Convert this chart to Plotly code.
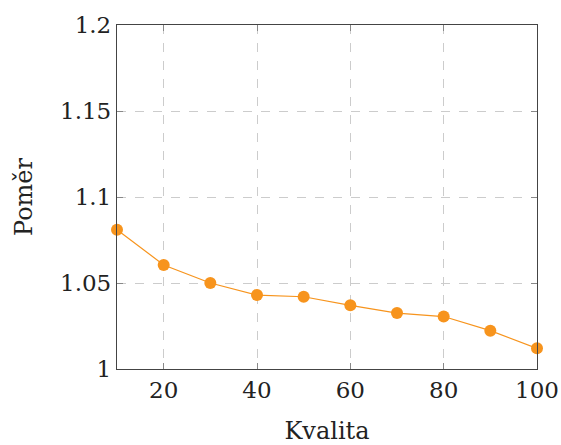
import plotly.graph_objects as go

kvalita = [10, 20, 30, 40, 50, 60, 70, 80, 90, 100]
pomer = [1.081, 1.0605, 1.050, 1.043, 1.042, 1.037, 1.0325, 1.0305, 1.0223, 1.012]

x_ticks = [20, 40, 60, 80, 100]
y_ticks = [1.0, 1.05, 1.1, 1.15, 1.2]
y_tick_labels = ["1", "1.05", "1.1", "1.15", "1.2"]

orange = "#F7941D"
font_family = "DejaVu Serif"

fig = go.Figure()
fig.add_trace(go.Scatter(
    x=kvalita, y=pomer, mode="lines+markers",
    line=dict(color=orange, width=1.2),
    marker=dict(color=orange, size=12),
    cliponaxis=False,
))

axis_common = dict(
    showline=True, linecolor="#444444", linewidth=1.3, mirror="ticks",
    ticks="inside", ticklen=6, tickcolor="#888888", tickwidth=1,
    showgrid=True, gridcolor="#cccccc", griddash="dash", gridwidth=1,
    zeroline=False, automargin=False,
    tickfont=dict(family=font_family, size=23, color="#222222"),
)

fig.update_layout(
    width=561, height=445,
    margin=dict(l=117, r=24, t=25, b=76),
    paper_bgcolor="white", plot_bgcolor="white",
    showlegend=False,
    font=dict(family=font_family),
    xaxis=dict(range=[10, 100], tickvals=x_ticks, ticktext=[str(v) for v in x_ticks],
               title=dict(text="Kvalita", font=dict(family=font_family, size=24, color="#222222"), standoff=24),
               **axis_common),
    yaxis=dict(range=[1.0, 1.2], tickvals=y_ticks, ticktext=y_tick_labels,
               title=dict(text="Poměr", font=dict(family=font_family, size=24, color="#222222"), standoff=20),
               **axis_common),
)

fig.write_html("out.html", config={"displayModeBar": False},
               post_script="document.body.style.margin='0';document.body.style.overflow='hidden';")
